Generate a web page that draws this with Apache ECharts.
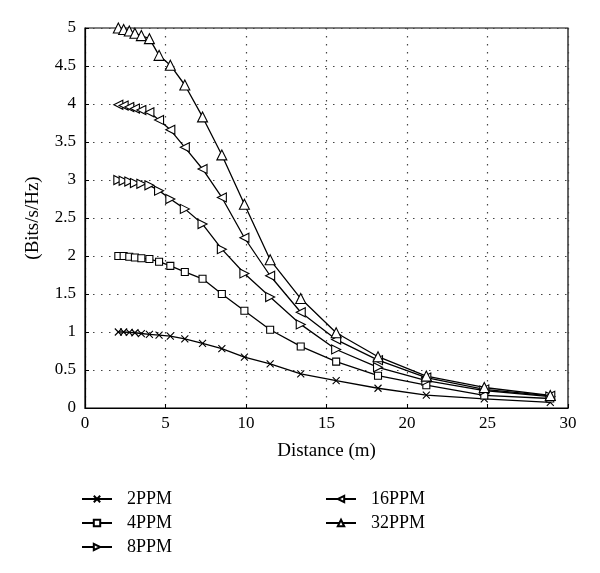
<!DOCTYPE html>
<html>
<head>
<meta charset="utf-8">
<script src="https://cdn.jsdelivr.net/npm/echarts@6/dist/echarts.min.js"></script>
<style>
  html, body { margin: 0; padding: 0; background: #fff; }
  #chart { width: 600px; height: 573px; }
</style>
</head>
<body>
<div id="chart"></div>
<script>
// distance (m) sample points, shared by all curves
var distance = [2.07, 2.4, 2.75, 3.1, 3.5, 4.0, 4.6, 5.3, 6.2, 7.3, 8.5, 9.9, 11.5, 13.4, 15.6, 18.2, 21.2, 24.8, 28.9];

var ppm2  = [1.0, 1.0, 0.995, 0.99, 0.98, 0.97, 0.96, 0.945, 0.91, 0.85, 0.78, 0.67, 0.58, 0.45, 0.36, 0.26, 0.17, 0.12, 0.075];
var ppm4  = [2.0, 2.0, 1.99, 1.98, 1.97, 1.96, 1.925, 1.87, 1.79, 1.70, 1.50, 1.28, 1.03, 0.81, 0.61, 0.425, 0.30, 0.165, 0.125];
var ppm8  = [3.0, 2.99, 2.98, 2.96, 2.95, 2.93, 2.86, 2.75, 2.62, 2.42, 2.09, 1.77, 1.46, 1.10, 0.77, 0.535, 0.36, 0.23, 0.15];
var ppm16 = [3.99, 3.98, 3.96, 3.94, 3.92, 3.89, 3.79, 3.66, 3.43, 3.145, 2.77, 2.24, 1.74, 1.26, 0.90, 0.63, 0.40, 0.245, 0.16];
var ppm32 = [5.0, 4.98, 4.96, 4.93, 4.9, 4.86, 4.64, 4.51, 4.25, 3.83, 3.33, 2.68, 1.95, 1.44, 0.99, 0.675, 0.42, 0.27, 0.165];

var names = ['2PPM', '4PPM', '8PPM', '16PPM', '32PPM'];
var yTicks = ['0', '0.5', '1', '1.5', '2', '2.5', '3', '3.5', '4', '4.5', '5'];

var FONT = '"Liberation Serif", "DejaVu Serif", serif';

//每条曲线的标记
var marks = [
  { symbol: 'path://M0,0L10,10M10,0L0,10', size: 7 },
  { symbol: 'rect', size: 7 },
  { symbol: 'path://M0,0L10,5L0,10Z', size: 9 },
  { symbol: 'path://M10,0L0,5L10,10Z', size: 9 },
  { symbol: 'triangle', size: 10 }
];

function pairs(ys) {
  return ys.map(function (y, i) { return [distance[i], y]; });
}

var chart = echarts.init(document.getElementById('chart'));

var series = [ppm2, ppm4, ppm8, ppm16, ppm32].map(function (ys, i) {
  return {
    name: names[i],
    type: 'line',
    data: pairs(ys),
    symbol: marks[i].symbol,
    symbolSize: marks[i].size,
    showAllSymbol: true,
    smooth: false,
    lineStyle: { color: '#000', width: 1.3 },
    itemStyle: { color: '#fff', borderColor: '#000', borderWidth: 1.1 },
    emphasis: { disabled: true }
  };
});

var legendBase = {
  orient: 'vertical',
  height: 90,
  itemWidth: 30,
  itemHeight: 8,
  itemGap: 6,
  textStyle: { fontFamily: FONT, fontSize: 18, lineHeight: 18, color: '#000', padding: [0, 0, 0, 10] },
  inactiveColor: '#000'
};

chart.setOption({
  animation: false,
  backgroundColor: '#fff',
  grid: {
    left: 85, right: 32, top: 28, bottom: 165,
    show: true, borderColor: '#000', borderWidth: 1.2, backgroundColor: 'transparent'
  },
  legend: [
    Object.assign({ data: names.slice(0, 3), left: 76, top: 485 }, legendBase),
    Object.assign({ data: names.slice(3), left: 320, top: 485 }, legendBase)
  ],
  xAxis: {
    type: 'value',
    min: 0, max: 30, interval: 5,
    name: 'Distance (m)',
    nameLocation: 'middle',
    nameGap: 34,
    nameTextStyle: { fontFamily: FONT, fontSize: 19, color: '#000' },
    axisLine: { show: true, lineStyle: { color: '#000', width: 1.2 } },
    axisTick: { show: true, inside: true, length: 4, lineStyle: { color: '#000' } },
    axisLabel: { fontFamily: FONT, fontSize: 17, color: '#000', margin: 7 },
    splitLine: { show: true, lineStyle: { color: '#444', type: [1.5, 6.5], width: 1.2 } }
  },
  yAxis: {
    type: 'value',
    min: 0, max: 5, interval: 0.5,
    name: '(Bits/s/Hz)',
    nameLocation: 'middle',
    nameGap: 42,
    nameTextStyle: { fontFamily: FONT, fontSize: 19, color: '#000' },
    axisLine: { show: true, lineStyle: { color: '#000', width: 1.2 } },
    axisTick: { show: true, inside: true, length: 4, lineStyle: { color: '#000' } },
    axisLabel: {
      fontFamily: FONT, fontSize: 17, color: '#000', margin: 9,
      formatter: function (v) { return yTicks[Math.round(v / 0.5)]; }
    },
    splitLine: { show: true, lineStyle: { color: '#444', type: [1.5, 6.5], width: 1.2 } }
  },
  series: series
});
</script>
</body>
</html>
